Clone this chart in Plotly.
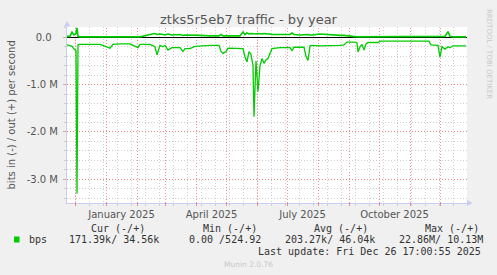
import plotly.graph_objects as go

# ---------------- data ----------------
dates = [
    "2024-11-22 12:00", "2024-11-25 12:00", "2024-11-27 12:00", "2024-11-29 12:00",
    "2024-12-01 12:00", "2024-12-02 12:00", "2024-12-03 12:00", "2024-12-05 12:00",
    "2024-12-15 12:00", "2024-12-20 12:00", "2024-12-25 12:00", "2025-01-04 12:00",
    "2025-01-07 12:00", "2025-01-14 12:00", "2025-01-24 12:00", "2025-02-01 12:00",
    "2025-02-03 12:00", "2025-02-13 12:00", "2025-02-18 12:00", "2025-02-20 12:00",
    "2025-02-23 12:00", "2025-02-26 12:00", "2025-02-28 12:00", "2025-03-03 12:00",
    "2025-03-07 12:00", "2025-03-15 12:00", "2025-03-18 12:00", "2025-03-20 12:00",
    "2025-03-25 12:00", "2025-03-30 12:00", "2025-04-04 12:00", "2025-04-14 12:00",
    "2025-04-23 12:00", "2025-04-25 12:00", "2025-04-27 12:00", "2025-04-30 12:00",
    "2025-05-02 12:00", "2025-05-14 12:00", "2025-05-17 12:00", "2025-05-19 12:00",
    "2025-05-21 12:00", "2025-05-23 12:00", "2025-05-25 12:00", "2025-05-27 12:00",
    "2025-05-28 12:00", "2025-05-30 12:00", "2025-06-01 12:00", "2025-06-03 12:00",
    "2025-06-05 12:00", "2025-06-07 12:00", "2025-06-09 12:00", "2025-06-11 12:00",
    "2025-06-13 12:00", "2025-06-15 12:00", "2025-06-23 12:00", "2025-07-03 12:00",
    "2025-07-05 12:00", "2025-07-07 12:00", "2025-07-13 12:00", "2025-07-17 12:00",
    "2025-07-19 12:00", "2025-07-21 12:00", "2025-07-23 12:00", "2025-07-25 12:00",
    "2025-08-02 12:00", "2025-08-12 12:00", "2025-08-22 12:00", "2025-08-26 12:00",
    "2025-08-29 12:00", "2025-09-06 12:00", "2025-09-08 12:00", "2025-09-09 12:00",
    "2025-09-11 12:00", "2025-09-13 12:00", "2025-09-15 12:00", "2025-09-17 12:00",
    "2025-09-19 12:00", "2025-09-29 12:00", "2025-10-01 12:00", "2025-10-21 12:00",
    "2025-11-10 12:00", "2025-11-19 12:00", "2025-11-21 12:00", "2025-11-28 12:00",
    "2025-11-30 12:00", "2025-12-02 12:00", "2025-12-05 12:00", "2025-12-08 12:00",
    "2025-12-10 12:00", "2025-12-13 12:00", "2025-12-20 12:00", "2025-12-26 12:00",
]

# bits in (plotted negative), in Mbps
bps_in = [
    -0.16, -0.17, -0.19, -0.25,
    -0.28, -3.30, -0.16, -0.15,
    -0.15, -0.14, -0.15, -0.23,
    -0.15, -0.14, -0.14, -0.22,
    -0.15, -0.15, -0.20, -0.37,
    -0.17, -0.20, -0.17, -0.27,
    -0.22, -0.22, -0.30, -0.24,
    -0.24, -0.19, -0.18, -0.17,
    -0.17, -0.30, -0.34, -0.30,
    -0.23, -0.23, -0.24, -0.41,
    -0.52, -0.30, -0.36, -0.60,
    -1.68, -0.50, -1.15, -0.60,
    -0.45, -0.55, -0.48, -0.45,
    -0.35, -0.24, -0.22, -0.22,
    -0.28, -0.21, -0.21, -0.21,
    -0.40, -0.49, -0.18, -0.17,
    -0.18, -0.18, -0.17, -0.16,
    -0.10, -0.10, -0.12, -0.31,
    -0.20, -0.15, -0.27, -0.14,
    -0.11, -0.11, -0.08, -0.08,
    -0.08, -0.08, -0.16, -0.17,
    -0.42, -0.20, -0.25, -0.20,
    -0.22, -0.18, -0.18, -0.18,
]

# bits out (plotted positive), in Mbps
bps_out = [
    0.02, 0.02, 0.11, 0.05,
    0.08, 0.20, 0.02, 0.01,
    0.01, 0.01, 0.01, 0.01,
    0.01, 0.01, 0.01, 0.01,
    0.01, 0.06, 0.08, 0.06,
    0.07, 0.06, 0.05, 0.07,
    0.05, 0.06, 0.04, 0.05,
    0.05, 0.04, 0.04, 0.03,
    0.03, 0.06, 0.03, 0.03,
    0.03, 0.03, 0.11, 0.06,
    0.09, 0.07, 0.08, 0.07,
    0.08, 0.07, 0.08, 0.07,
    0.07, 0.08, 0.07, 0.07,
    0.07, 0.06, 0.06, 0.06,
    0.09, 0.06, 0.05, 0.06,
    0.05, 0.06, 0.05, 0.05,
    0.07, 0.05, 0.04, 0.04,
    0.03, 0.01, 0.01, 0.01,
    0.01, 0.01, 0.01, 0.01,
    0.01, 0.01, 0.01, 0.01,
    0.01, 0.01, 0.01, 0.01,
    0.01, 0.02, 0.02, 0.12,
    0.02, 0.01, 0.01, 0.01,
]

x_range = ["2024-11-22 12:00", "2025-12-27 12:00"]
x_label_vals = ["2025-01-16", "2025-04-16", "2025-07-16", "2025-10-16"]
x_label_text = ["January 2025", "April 2025", "July 2025", "October 2025"]
month_starts = ["2024-12-01", "2025-01-01", "2025-02-01", "2025-03-01", "2025-04-01",
                "2025-05-01", "2025-06-01", "2025-07-01", "2025-08-01", "2025-09-01",
                "2025-10-01", "2025-11-01", "2025-12-01"]
biweekly = ["2024-12-01", "2024-12-15", "2024-12-29", "2025-01-12", "2025-01-26",
            "2025-02-09", "2025-02-23", "2025-03-09", "2025-03-23", "2025-04-06",
            "2025-04-20", "2025-05-04", "2025-05-18", "2025-06-01", "2025-06-15",
            "2025-06-29", "2025-07-13", "2025-07-27", "2025-08-10", "2025-08-24",
            "2025-09-07", "2025-09-21", "2025-10-05", "2025-10-19", "2025-11-02",
            "2025-11-16", "2025-11-30", "2025-12-14"]
y_tick_vals = [0, -1e6, -2e6, -3e6]
y_tick_text = ["0.0\u00a0\u00a0", "-1.0 M", "-2.0 M", "-3.0 M"]
y_range = [-3.501e6, 0.2176e6]

legend_head = ["Cur (-/+)", "Min (-/+)", "Avg (-/+)", "Max (-/+)"]
legend_vals = ["171.39k/ 34.56k", "0.00 /524.92", "203.27k/ 46.04k", "22.86M/ 10.13M"]
series_name = "bps"
title_text = "ztks5r5eb7 traffic - by year"
y_title = "bits in (-) / out (+) per second"
last_update = "Last update: Fri Dec 26 17:00:55 2025"

# ---------------- figure ----------------
W, H = 497, 275
L, R, T, B = 67, 30, 27, 72
PW, PH = W - L - R, H - T - B


def px(xp):
    return (xp - L) / PW


def py(yp):
    return (H - B - yp) / PH


GREEN = "#00CC00"
fig = go.Figure()
fig.add_trace(go.Scatter(x=dates, y=[v * 1e6 for v in bps_in], mode="lines",
                         line=dict(color=GREEN, width=1.3), showlegend=False,
                         hoverinfo="skip"))
fig.add_trace(go.Scatter(x=dates, y=[v * 1e6 for v in bps_out], mode="lines",
                         line=dict(color=GREEN, width=1.6), showlegend=False,
                         hoverinfo="skip"))

RED_GRID = "rgba(235,110,110,0.75)"
GRAY_GRID = "#cfcfcf"
AXIS_COL = "#c8ccf0"

shapes = []
for d in month_starts:
    shapes.append(dict(type="line", xref="x", yref="paper", x0=d, x1=d,
                       y0=0, y1=1, layer="below",
                       line=dict(color=RED_GRID, width=1, dash="1px,2px")))
    shapes.append(dict(type="line", xref="x", yref="paper", x0=d, x1=d,
                       y0=-3 / PH, y1=0, layer="above",
                       line=dict(color=RED_GRID, width=1)))
# axis arrows
shapes.append(dict(type="path", xref="paper", yref="paper", layer="above",
                   path=f"M {px(64)} {py(26.5)} L {px(70)} {py(26.5)} L {px(67)} {py(21)} Z",
                   fillcolor=AXIS_COL, line=dict(width=0)))
shapes.append(dict(type="path", xref="paper", yref="paper", layer="above",
                   path=f"M {px(467)} {py(200)} L {px(467)} {py(206)} L {px(472.5)} {py(203)} Z",
                   fillcolor=AXIS_COL, line=dict(width=0)))
# legend swatch
shapes.append(dict(type="rect", xref="paper", yref="paper",
                   x0=px(14), x1=px(19.5), y0=py(242.5), y1=py(236.5),
                   fillcolor=GREEN, line=dict(width=0)))

MONO = "DejaVu Sans Mono"
SANS = "DejaVu Sans"
TXT = "#333333"
ann = []
head_x = [89, 200.7, 312, 422.7]
for t, x0 in zip(legend_head, head_x):
    ann.append(dict(text=t, x=px(x0), y=py(228), xref="paper", yref="paper",
                    xanchor="left", yanchor="middle", showarrow=False,
                    font=dict(family=MONO, size=10, color=TXT)))
val_x = [66.7, 186.7, 282.7, 397.3]
for t, x0 in zip(legend_vals, val_x):
    ann.append(dict(text=t.replace(" ", "\u00a0"), x=px(x0), y=py(239.5), xref="paper", yref="paper",
                    xanchor="left", yanchor="middle", showarrow=False,
                    font=dict(family=MONO, size=10, color=TXT)))
ann.append(dict(text=series_name, x=px(26.7), y=py(239.5), xref="paper", yref="paper",
                xanchor="left", yanchor="middle", showarrow=False,
                font=dict(family=MONO, size=10, color=TXT)))
ann.append(dict(text=last_update, x=px(483), y=py(251), xref="paper", yref="paper",
                xanchor="right", yanchor="middle", showarrow=False,
                font=dict(family=MONO, size=10, color=TXT)))
ann.append(dict(text="Munin 2.0.76", x=px(248), y=py(264.5), xref="paper", yref="paper",
                xanchor="center", yanchor="middle", showarrow=False,
                font=dict(family=SANS, size=7.5, color="#c8c8c8")))
ann.append(dict(text="RRDTOOL / TOBI OETIKER", x=px(488.5), y=py(53.5), xref="paper", yref="paper",
                xanchor="center", yanchor="middle", showarrow=False, textangle=90,
                font=dict(family=SANS, size=7, color="#c8c8c8")))
ann.append(dict(text=y_title, x=px(10.5), y=0.5, xref="paper", yref="paper",
                xanchor="center", yanchor="middle", showarrow=False, textangle=-90,
                font=dict(family=SANS, size=10, color="#555555")))

fig.update_layout(
    width=W, height=H,
    margin=dict(l=L, r=R, t=T, b=B, pad=0),
    paper_bgcolor="#F0F0F0", plot_bgcolor="#FFFFFF",
    title=dict(text=title_text, x=0.5, xref="container", xanchor="center",
               y=1 - 19.5 / H, yref="container", yanchor="middle",
               font=dict(family=SANS, size=13, color="#555555")),
    shapes=shapes, annotations=ann, showlegend=False,
    xaxis=dict(type="date", range=x_range, tickmode="array",
               tickvals=x_label_vals, ticktext=x_label_text,
               showgrid=False, ticks="", showline=True, linecolor=AXIS_COL,
               linewidth=1, zeroline=False,
               tickfont=dict(family=SANS, size=10, color="#555555"),
               ticklabelstandoff=2,
               minor=dict(tickmode="array", tickvals=biweekly, showgrid=True,
                          gridcolor=GRAY_GRID, griddash="1px,2px", gridwidth=1,
                          ticks="outside", ticklen=2, tickcolor="#cccccc")),
    yaxis=dict(range=y_range, tickmode="array", tickvals=y_tick_vals,
               ticktext=y_tick_text, showgrid=True, gridcolor=RED_GRID,
               griddash="1px,2px", gridwidth=1,
               zeroline=True, zerolinecolor="#000000", zerolinewidth=1.2,
               showline=True, linecolor=AXIS_COL, linewidth=1,
               ticks="outside", ticklen=3, tickcolor="#e0a0a0",
               tickfont=dict(family=SANS, size=10, color="#555555"),
               ticklabelstandoff=3,
               minor=dict(tickmode="linear", tick0=0, dtick=2e5, showgrid=True,
                          gridcolor=GRAY_GRID, griddash="1px,2px", gridwidth=1,
                          ticks="outside", ticklen=2, tickcolor="#cccccc")),
)

fig.write_html("out.html")
